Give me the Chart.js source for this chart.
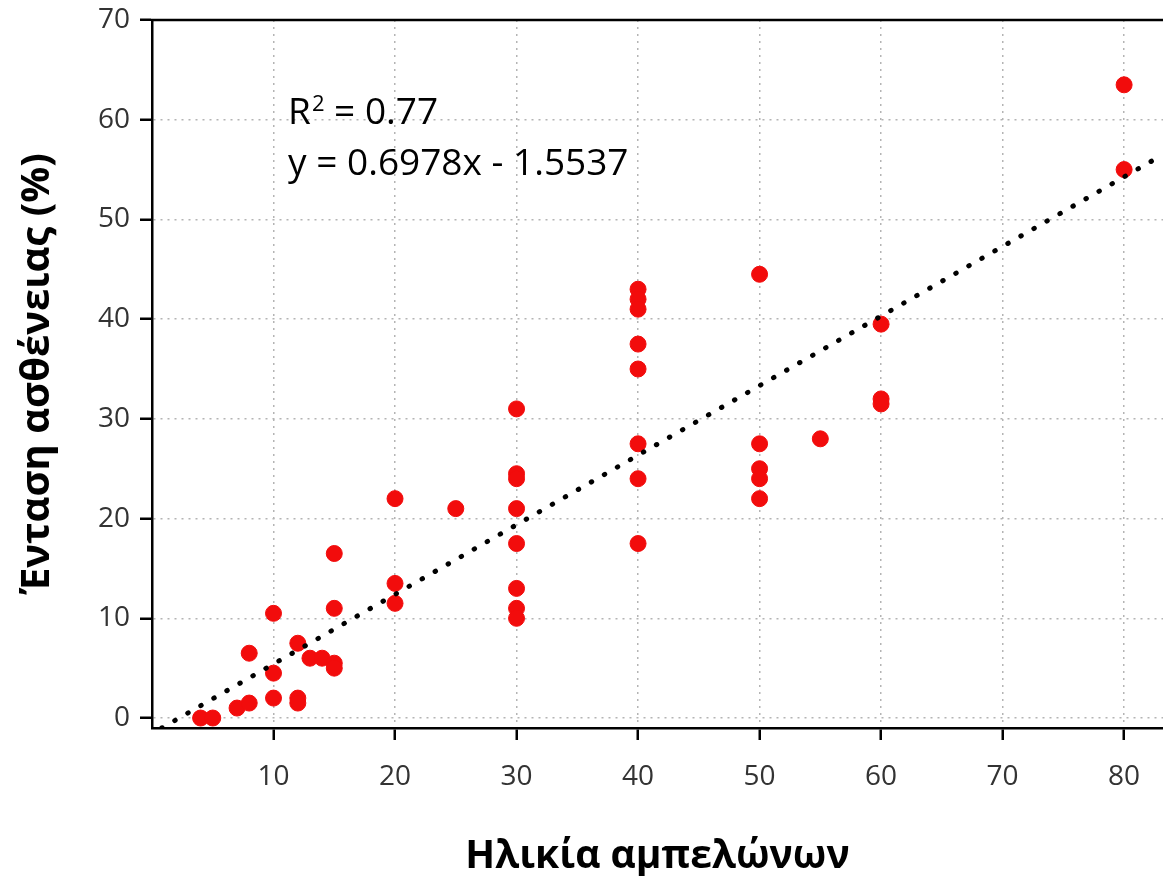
<!DOCTYPE html>
<html>
<head>
<meta charset="utf-8">
<script src="https://cdn.jsdelivr.net/npm/chart.js@4"></script>
<style>
  html, body { margin: 0; padding: 0; background: #fff; overflow: hidden; }
  canvas { display: block; }
</style>
</head>
<body>
<canvas id="grafico" width="1163" height="876" style="width:1163px;height:876px"></canvas>
<script>
// Δεδομένα: ηλικία αμπελώνων (x) και ένταση ασθένειας % (y)
const ilikia = [4, 5, 7, 8, 8, 10, 10, 10, 12, 12, 12, 13, 14, 15, 15, 15, 15,
  20, 20, 20, 25, 30, 30, 30, 30, 30, 30, 30, 30,
  40, 40, 40, 40, 40, 40, 40, 40, 50, 50, 50, 50, 50, 55, 60, 60, 60, 80, 80];
const entasi = [0, 0, 1, 1.5, 6.5, 10.5, 4.5, 2, 7.5, 2, 1.5, 6, 6, 5.5, 5, 11, 16.5,
  22, 13.5, 11.5, 21, 31, 24.5, 24, 21, 17.5, 13, 11, 10,
  43, 42, 41, 37.5, 35, 27.5, 24, 17.5, 44.5, 27.5, 25, 24, 22, 28, 39.5, 32, 31.5, 63.5, 55];

// Γραμμή τάσης (άκρα όπως φαίνονται στο γράφημα)
const trendX = [0.8, 83.2];
const trendY = [-1.0, 56.5];

const xTicks = [10, 20, 30, 40, 50, 60, 70, 80];
const yTicks = [0, 10, 20, 30, 40, 50, 60, 70];

const textR2 = 'R';
const textR2val = ' = 0.77';
const textEq = 'y = 0.6978x - 1.5537';

const fontBase = "'Open Sans', 'Noto Sans', sans-serif";

// Plugin: πάνω πλαίσιο και κείμενο εξίσωσης
const plaisioPlugin = {
  id: 'plaisio',
  afterDatasetsDraw(chart) {
    const ctx = chart.ctx;
    const area = chart.chartArea;
    const xs = chart.scales.x;
    const ys = chart.scales.y;
    ctx.save();
    ctx.strokeStyle = '#000';
    ctx.lineWidth = 2.5;
    ctx.beginPath();
    ctx.moveTo(area.left - 1, area.top);
    ctx.lineTo(area.right, area.top);
    ctx.stroke();

    ctx.fillStyle = '#000';
    ctx.textBaseline = 'alphabetic';
    ctx.textAlign = 'left';
    const x0 = xs.getPixelForValue(11.2);
    const y1 = ys.getPixelForValue(59.6);
    const y2 = ys.getPixelForValue(54.5);
    ctx.font = '37px ' + fontBase;
    ctx.fillText(textR2, x0, y1);
    const wR = ctx.measureText(textR2).width;
    ctx.font = '22px ' + fontBase;
    ctx.fillText('2', x0 + wR + 1, y1 - 13);
    const w2 = ctx.measureText('2').width;
    ctx.font = '37px ' + fontBase;
    ctx.fillText(textR2val, x0 + wR + w2 + 1, y1);
    ctx.fillText(textEq, x0, y2);
    ctx.restore();
  }
};

// μηδενικά περιθώρια αξόνων, ώστε η περιοχή σχεδίασης να ορίζεται από το layout
function xFit(scale) {
  scale.height = 148;
  scale.paddingLeft = 0; scale.paddingRight = 0;
  scale.paddingTop = 0; scale.paddingBottom = 0;
}
function yFit(scale) {
  scale.width = 152;
  scale.paddingLeft = 0; scale.paddingRight = 0;
  scale.paddingTop = 0; scale.paddingBottom = 0;
}

const ctx = document.getElementById('grafico').getContext('2d');

new Chart(ctx, {
  type: 'scatter',
  data: {
    datasets: [
      {
        label: 'Παρατηρήσεις',
        data: ilikia.map((v, i) => ({ x: v, y: entasi[i] })),
        backgroundColor: '#f20c0c',
        borderColor: '#f20c0c',
        pointRadius: 8,
        pointHoverRadius: 8,
        order: 2
      },
      {
        label: 'Τάση',
        type: 'line',
        data: trendX.map((v, i) => ({ x: v, y: trendY[i] })),
        borderColor: '#000',
        borderWidth: 5,
        borderDash: [0.5, 14.5],
        borderCapStyle: 'round',
        pointRadius: 0,
        fill: false,
        order: 1
      }
    ]
  },
  options: {
    responsive: false,
    animation: false,
    layout: { autoPadding: false, padding: { top: 20, right: 0, bottom: 0, left: 0 } },
    plugins: {
      legend: { display: false },
      tooltip: { enabled: false }
    },
    scales: {
      x: {
        type: 'linear',
        min: 0,
        max: 83.2,
        afterBuildTicks: (scale) => {
          scale.ticks = xTicks.map(v => ({ value: v }));
        },
        afterFit: xFit,
        grid: {
          color: '#b4b4b4',
          lineWidth: 1.5,
          tickColor: '#000',
          tickWidth: 2.5,
          tickLength: 12,
          tickBorderDash: []
        },
        border: { color: '#000', width: 2.5, dash: [2, 5] },
        ticks: {
          color: '#333',
          padding: 20,
          font: { family: fontBase, size: 28 }
        },
        title: {
          display: true,
          text: 'Ηλικία αμπελώνων',
          color: '#000',
          padding: { top: 0, bottom: 0 },
          font: { family: fontBase, size: 39, weight: 'bold', lineHeight: 1 }
        }
      },
      y: {
        type: 'linear',
        min: -1,
        max: 70,
        afterBuildTicks: (scale) => {
          scale.ticks = yTicks.map(v => ({ value: v }));
        },
        afterFit: yFit,
        grid: {
          color: '#b4b4b4',
          lineWidth: 1.5,
          tickColor: '#000',
          tickWidth: 2.5,
          tickLength: 12,
          tickBorderDash: []
        },
        border: { color: '#000', width: 2.5, dash: [2, 5] },
        ticks: {
          color: '#333',
          padding: 10,
          font: { family: fontBase, size: 28 }
        },
        title: {
          display: true,
          text: 'Ένταση ασθένειας (%)',
          color: '#000',
          padding: { top: 18, bottom: 0 },
          font: { family: fontBase, size: 40, weight: 'bold', lineHeight: 1 }
        }
      }
    }
  },
  plugins: [plaisioPlugin]
});
</script>
</body>
</html>
